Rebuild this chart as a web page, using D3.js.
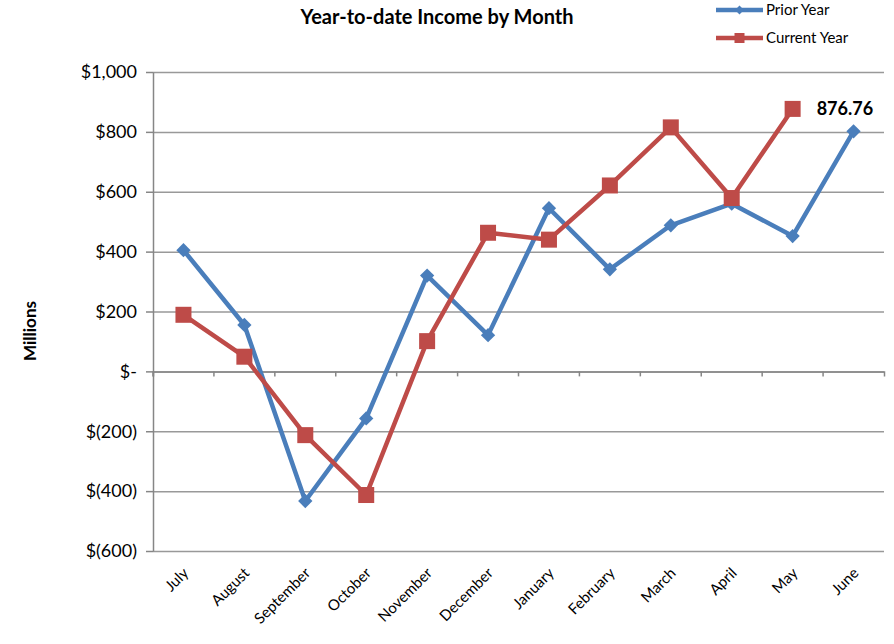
<!DOCTYPE html>
<html>
<head>
<meta charset="utf-8">
<script src="https://cdn.jsdelivr.net/npm/d3@7"></script>
<style>
    body { margin: 0; background: #fff; }
    svg, svg text { font-family: Lato, 'Open Sans', sans-serif; }
    .axis path, .axis line { stroke: #868686; stroke-width: 1.5; }
    .grid line { stroke: #999; stroke-width: 1.5; }
    .grid path { display: none; }
</style>
</head>
<body>
<svg width="894" height="644"></svg>
<script>
const months = ['July', 'August', 'September', 'October', 'November', 'December',
    'January', 'February', 'March', 'April', 'May', 'June'];
const priorYear = [405, 155, -433, -157, 320, 121, 545, 341, 488, 560, 452, 802];
const currentYear = [189, 49, -213, -413, 101, 463, 440, 621, 815, 579, 876.76];
const yTicks = [-600, -400, -200, 0, 200, 400, 600, 800, 1000];

const margin = { top: 72, right: 10, bottom: 93, left: 153 };
const w = 894;
const h = 644;
const width = w - margin.left - margin.right;
const height = h - margin.top - margin.bottom;

const svg = d3.select('svg');
const g = svg.append('g').attr('transform', `translate(${margin.left},${margin.top})`);

const x = d3.scaleBand().domain(months).range([0, 731]);
const y = d3.scaleLinear().domain([-600, 1000]).range([height, 0]);

const fmt = (d) => {
    if (d === 0) return '$-';
    const s = d3.format(',')(Math.abs(d));
    return d < 0 ? `$(${s})` : `$${s}`;
};

// gridlines
g.append('g')
    .attr('class', 'grid')
    .call(d3.axisLeft(y).tickValues(yTicks).tickSize(-731).tickFormat(''));

// y axis
const axisY = g.append('g')
    .attr('class', 'axis')
    .call(d3.axisLeft(y).tickValues(yTicks).tickSizeOuter(0).tickSizeInner(7).tickFormat(fmt).tickPadding(9));
axisY.selectAll('text').attr('font-size', 18).attr('fill', '#000');

// x axis on zero line
const axisX = g.append('g')
    .attr('class', 'axis')
    .attr('transform', `translate(0,${y(0)})`)
    .call(d3.axisBottom(x).tickSizeOuter(0).tickSize(5).tickFormat(''));
axisX.selectAll('.tick').attr('transform', (d) => `translate(${x(d)},0)`);

// month labels at the bottom
g.append('g')
    .selectAll('text')
    .data(months)
    .join('text')
    .attr('transform', (d) => `translate(${x(d) + x.bandwidth() / 2 + 6},${height + 23}) rotate(-45)`)
    .attr('text-anchor', 'end')
    .attr('font-size', 15)
    .text((d) => d);

const cx = (i) => x(months[i]) + x.bandwidth() / 2;

const line = d3.line()
    .x((d, i) => cx(i))
    .y((d) => y(d));

g.append('path')
    .datum(priorYear)
    .attr('fill', 'none')
    .attr('stroke', '#4a7ebb')
    .attr('stroke-width', 4.5)
    .attr('stroke-linejoin', 'round')
    .attr('d', line);

g.append('path')
    .datum(currentYear)
    .attr('fill', 'none')
    .attr('stroke', '#be4b48')
    .attr('stroke-width', 4.5)
    .attr('stroke-linejoin', 'round')
    .attr('d', line);

g.selectAll('.diamond')
    .data(priorYear)
    .join('path')
    .attr('class', 'diamond')
    .attr('d', d3.symbol(d3.symbolDiamond2, 130))
    .attr('transform', (d, i) => `translate(${cx(i)},${y(d)})`)
    .attr('fill', '#4a7ebb');

g.selectAll('.square')
    .data(currentYear)
    .join('rect')
    .attr('class', 'square')
    .attr('x', (d, i) => cx(i) - 8)
    .attr('y', (d) => y(d) - 8)
    .attr('width', 16)
    .attr('height', 16)
    .attr('fill', '#be4b48');

// data label
const last = currentYear.length - 1;
g.append('text')
    .attr('x', cx(last) + 24)
    .attr('y', y(currentYear[last]) + 6)
    .attr('font-size', 18)
    .attr('font-weight', 'bold')
    .text(d3.format('.2f')(currentYear[last]));

// title
svg.append('text')
    .attr('x', 437)
    .attr('y', 24)
    .attr('text-anchor', 'middle')
    .attr('font-size', 20)
    .attr('font-weight', 'bold')
    .text('Year-to-date Income by Month');

// y label
svg.append('text')
    .attr('transform', 'translate(36,331) rotate(-90)')
    .attr('text-anchor', 'middle')
    .attr('font-size', 17)
    .attr('font-weight', 'bold')
    .text('Millions');

// legend
const legend = [
    { name: 'Prior Year', color: '#4a7ebb', shape: 'diamond' },
    { name: 'Current Year', color: '#be4b48', shape: 'square' }
];
const lg = svg.append('g').selectAll('g')
    .data(legend)
    .join('g')
    .attr('transform', (d, i) => `translate(716,${10 + i * 28})`);
lg.append('line')
    .attr('x1', 0).attr('x2', 47)
    .attr('stroke', (d) => d.color)
    .attr('stroke-width', 4.5);
lg.filter((d) => d.shape === 'diamond')
    .append('path')
    .attr('d', d3.symbol(d3.symbolDiamond2, 50))
    .attr('transform', 'translate(23.5,0)')
    .attr('fill', (d) => d.color);
lg.filter((d) => d.shape === 'square')
    .append('rect')
    .attr('x', 18.5).attr('y', -5).attr('width', 10).attr('height', 10)
    .attr('fill', (d) => d.color);
lg.append('text')
    .attr('x', 50)
    .attr('y', 5)
    .attr('font-size', 15)
    .text((d) => d.name);
</script>
</body>
</html>
